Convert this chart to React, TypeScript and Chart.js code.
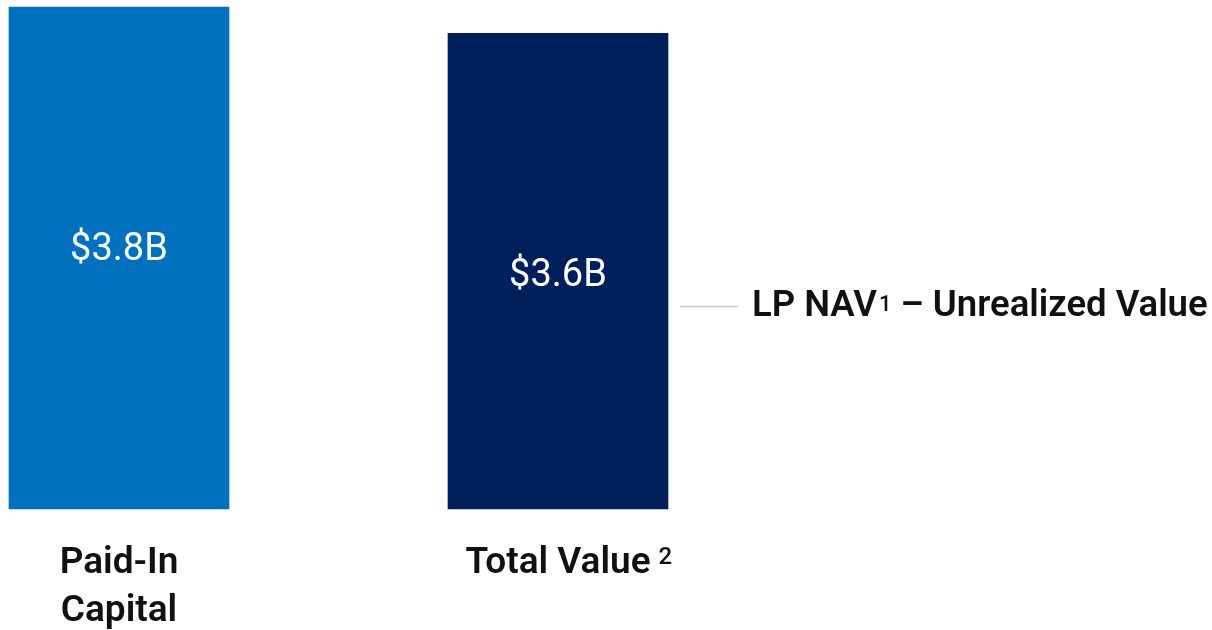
import React, { useEffect, useRef } from "react";
import { Chart, registerables } from "chart.js";

Chart.register(...registerables);

const categories = ["Paid-In Capital", "Total Value"];
const categoryLines = [["Paid-In", "Capital"], ["Total Value"]];
const categoryNotes = ["", "2"];
const values = [3.8, 3.6];
const valueLabels = ["$3.8B", "$3.6B"];
const barColors = ["#0071BF", "#00205B"];
const annotationMain = "LP NAV";
const annotationNote = "1";
const annotationRest = " \u2013 Unrealized Value";

const FONT = "Roboto, 'Noto Sans', sans-serif";

const labelPlugin = {
  id: "customLabels",
  afterDatasetsDraw(chart: any) {
    const ctx = chart.ctx;
    const meta = chart.getDatasetMeta(0);
    const xScale = chart.scales.x;
    const area = chart.chartArea;
    ctx.save();
    // value labels inside bars
    meta.data.forEach((bar: any, i: number) => {
      const p = bar.getProps(["x", "y"], true);
      ctx.font = `400 38px ${FONT}`;
      ctx.fillStyle = "#ffffff";
      ctx.textAlign = "center";
      ctx.textBaseline = "alphabetic";
      ctx.fillText(valueLabels[i], p.x, p.y + 253);
    });
    // category labels
    categoryLines.forEach((lines, i) => {
      const cx = xScale.getPixelForValue(i);
      lines.forEach((line, j) => {
        const by = area.bottom + 64 + j * 48;
        ctx.font = `600 37px ${FONT}`;
        ctx.fillStyle = "#111111";
        ctx.textAlign = "center";
        ctx.textBaseline = "alphabetic";
        ctx.fillText(line, cx, by);
        if (j === 0 && categoryNotes[i]) {
          const w = ctx.measureText(line).width;
          ctx.font = `500 24px ${FONT}`;
          ctx.textAlign = "left";
          ctx.fillText(categoryNotes[i], cx + w / 2 + 8, by - 9);
        }
      });
    });
    // annotation for the second bar
    const bar2 = meta.data[1];
    if (bar2) {
      const p = bar2.getProps(["x", "y", "width"], true);
      const right = p.x + p.width / 2;
      const ly = p.y + 273;
      ctx.strokeStyle = "#c8c8c8";
      ctx.lineWidth = 1.5;
      ctx.beginPath();
      ctx.moveTo(right + 12, ly);
      ctx.lineTo(right + 70, ly);
      ctx.stroke();
      let tx = right + 84;
      const ty = p.y + 283;
      ctx.fillStyle = "#111111";
      ctx.textAlign = "left";
      ctx.textBaseline = "alphabetic";
      ctx.font = `600 36.5px ${FONT}`;
      ctx.fillText(annotationMain, tx, ty);
      tx += ctx.measureText(annotationMain).width + 2;
      ctx.font = `500 22px ${FONT}`;
      ctx.fillText(annotationNote, tx, ty - 5);
      tx += ctx.measureText(annotationNote).width;
      ctx.font = `600 36.5px ${FONT}`;
      ctx.fillText(annotationRest, tx, ty);
    }
    ctx.restore();
  },
};

export default function App() {
  const canvasRef = useRef<HTMLCanvasElement | null>(null);

  useEffect(() => {
    const canvas = canvasRef.current;
    if (!canvas) return;
    const chart = new Chart(canvas, {
      type: "bar",
      data: {
        labels: categories,
        datasets: [
          {
            data: values,
            backgroundColor: barColors,
            borderWidth: 0,
            barThickness: 220,
            clip: false as any,
          },
        ],
      },
      options: {
        animation: false,
        responsive: false,
        maintainAspectRatio: false,
        layout: { padding: { left: 119, right: 654, top: 7, bottom: 0 } },
        plugins: {
          legend: { display: false },
          tooltip: { enabled: false },
        },
        scales: {
          x: {
            offset: false,
            grid: { display: false, drawTicks: false },
            border: { display: false },
            ticks: { display: false },
            afterFit: (scale: any) => {
              scale.height = 121;
            },
          },
          y: {
            display: false,
            min: 0,
            max: 3.8,
          },
        },
      },
      plugins: [labelPlugin],
    });
    return () => chart.destroy();
  }, []);

  return (
    <div style={{ position: "absolute", left: 0, top: 0, width: 1212, height: 630, background: "#fff" }}>
      <canvas ref={canvasRef} width={1212} height={630} style={{ display: "block" }} />
    </div>
  );
}
